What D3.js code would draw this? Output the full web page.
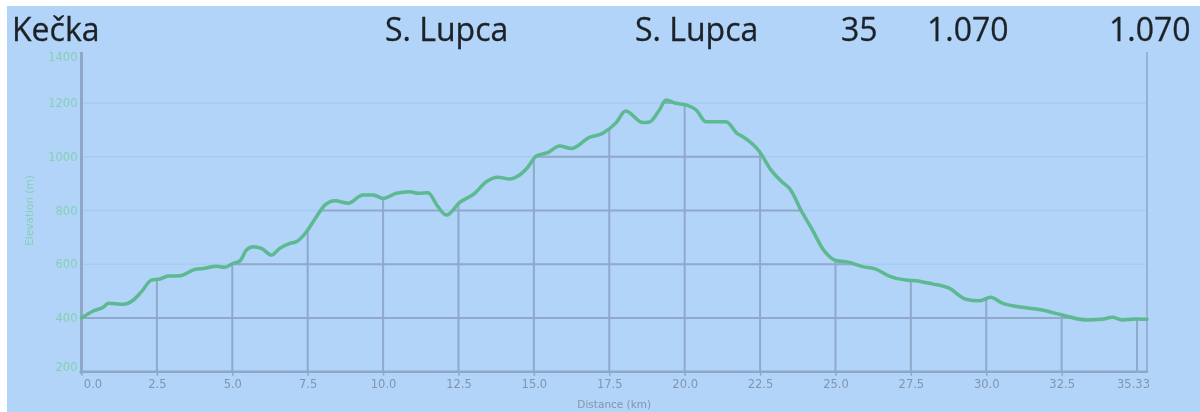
<!DOCTYPE html>
<html>
<head>
<meta charset="utf-8">
<script src="https://cdn.jsdelivr.net/npm/d3@7"></script>
<style>
  html, body { margin: 0; padding: 0; background: #ffffff; }
  svg { display: block; }
</style>
</head>
<body>
<svg id="chart" width="1200" height="412"></svg>
<script>
// ---- data ----
const headerLabels = ["Kečka", "S. Lupca", "S. Lupca", "35", "1.070", "1.070"];
const distanceKm = [0, 0.39, 0.72, 0.89, 1.38, 1.72, 1.99, 2.32, 2.60, 2.87, 3.26, 3.76, 4.09, 4.48, 4.75, 5.03, 5.25, 5.47, 5.69, 5.97, 6.30, 6.57, 6.91, 7.13, 7.46, 7.79, 8.07, 8.40, 8.84, 9.33, 9.67, 10.0, 10.44, 10.88, 11.16, 11.49, 11.82, 12.10, 12.54, 13.04, 13.42, 13.81, 14.19, 14.47, 14.80, 15.08, 15.46, 15.85, 16.24, 16.84, 17.28, 17.73, 18.04, 18.61, 18.83, 19.16, 19.38, 19.71, 20.04, 20.38, 20.71, 21.04, 21.37, 21.76, 21.92, 22.48, 22.86, 23.25, 23.47, 23.91, 24.24, 24.57, 25.02, 25.46, 25.9, 26.34, 26.78, 27.33, 27.66, 28.21, 28.77, 29.32, 29.76, 30.15, 30.53, 31.19, 31.86, 32.52, 33.30, 33.84, 34.18, 34.51, 34.96, 35.33];
const elevationM = [400, 426, 440, 455, 451, 467, 498, 541, 545, 556, 557, 581, 585, 593, 589, 603, 612, 653, 665, 659, 634, 659, 678, 684, 721, 777, 820, 836, 827, 858, 858, 845, 864, 870, 864, 866, 814, 783, 830, 864, 907, 924, 917, 928, 961, 1003, 1015, 1040, 1031, 1072, 1087, 1127, 1170, 1127, 1129, 1174, 1211, 1199, 1193, 1174, 1130, 1130, 1130, 1085, 1075, 1019, 951, 904, 883, 790, 727, 659, 614, 607, 591, 582, 556, 541, 539, 527, 511, 470, 464, 477, 455, 440, 430, 411, 393, 395, 403, 393, 396, 395];
const xTickValues = [0, 2.5, 5, 7.5, 10, 12.5, 15, 17.5, 20, 22.5, 25, 27.5, 30, 32.5, 35.33];
const xTickLabels = ["0.0", "2.5", "5.0", "7.5", "10.0", "12.5", "15.0", "17.5", "20.0", "22.5", "25.0", "27.5", "30.0", "32.5", "35.33"];
const xGridValues = [2.5, 5, 7.5, 10, 12.5, 15, 17.5, 20, 22.5, 25, 27.5, 30, 32.5, 35];
const yTickValues = [200, 400, 600, 800, 1000, 1200, 1400];
const xTitle = "Distance (km)";
const yTitle = "Elevation (m)";

const data = distanceKm.map((d, i) => ({ d, e: elevationM[i] }));

// ---- layout ----
const W = 1200, H = 412;
const mLeft = 81.5, mRight = 1147, mTop = 49.25, mBottom = 371.75;
const x = d3.scaleLinear().domain([0, 35.33]).range([mLeft, mRight]);
const y = d3.scaleLinear().domain([200, 1400]).range([mBottom, mTop]);

const svg = d3.select("#chart");
const defs = svg.append("defs");
defs.append("filter").attr("id", "soft")
  .attr("x", "-5%").attr("y", "-5%").attr("width", "110%").attr("height", "110%")
  .append("feGaussianBlur").attr("stdDeviation", 0.6);

const root = svg.append("g").attr("filter", "url(#soft)");

root.append("rect").attr("x", 7).attr("y", 6).attr("width", W - 7).attr("height", H - 6)
  .attr("fill", "#b1d4f8");

// header
const headerX = [12, 385, 635, 841, 927, 1109];
root.append("g").selectAll("text").data(headerLabels).join("text")
  .attr("x", (d, i) => headerX[i]).attr("y", 41)
  .attr("font-family", "'Open Sans', 'Noto Sans', sans-serif")
  .attr("font-size", 32).attr("fill", "#1c2026")
  .attr("stroke", "#1c2026").attr("stroke-width", 0.3)
  .text(d => d);

// light horizontal grid (full width)
const innerY = yTickValues.filter(v => v > 200 && v < 1400);
root.append("g").selectAll("line").data(innerY).join("line")
  .attr("x1", mLeft).attr("x2", mRight)
  .attr("y1", d => y(d)).attr("y2", d => y(d))
  .attr("stroke", "#a9cbef").attr("stroke-width", 1.5);

// clip to area under the profile
const area = d3.area().x(p => x(p.d)).y0(mBottom).y1(p => y(p.e)).curve(d3.curveMonotoneX);
defs.append("clipPath").attr("id", "under").append("path").attr("d", area(data));

const dark = root.append("g").attr("clip-path", "url(#under)");
dark.selectAll("line.h").data(innerY).join("line")
  .attr("class", "h")
  .attr("x1", mLeft).attr("x2", mRight)
  .attr("y1", d => y(d)).attr("y2", d => y(d))
  .attr("stroke", "#90a9ca").attr("stroke-width", 2);
dark.selectAll("line.v").data(xGridValues).join("line")
  .attr("class", "v")
  .attr("x1", d => x(d)).attr("x2", d => x(d))
  .attr("y1", mTop).attr("y2", mBottom)
  .attr("stroke", "#90a9ca").attr("stroke-width", 2);

// right boundary
root.append("line").attr("x1", x(35.33)).attr("x2", x(35.33)).attr("y1", 52).attr("y2", mBottom + 1)
  .attr("stroke", "#97b1d2").attr("stroke-width", 2);

// y axis
const yAxis = d3.axisLeft(y).tickValues(yTickValues).tickSize(0).tickPadding(4).tickFormat(d3.format("d"));
const gy = root.append("g").attr("transform", `translate(${mLeft},0)`).call(yAxis);
gy.select(".domain").attr("stroke", "#8fa7c6").attr("stroke-width", 3).attr("d", `M0,52V${mBottom + 2}`);
gy.selectAll("text").attr("font-family", "'DejaVu Sans', sans-serif").attr("font-size", 11.5)
  .attr("fill", "#84d0b2")
  .attr("dy", d => d === 200 ? "-0.15em" : d === 1400 ? "0.95em" : "0.32em");

// x axis
const xAxis = d3.axisBottom(x).tickValues(xTickValues).tickSize(4).tickPadding(4)
  .tickFormat((d, i) => xTickLabels[i]);
const gx = root.append("g").attr("transform", `translate(0,${mBottom})`).call(xAxis);
gx.select(".domain").attr("stroke", "#8fa7c6").attr("stroke-width", 2.5).attr("d", `M${mLeft - 2},0H${mRight + 1}`);
gx.selectAll(".tick line").attr("stroke", "#8fa7c6").attr("stroke-width", 1.5);
gx.selectAll(".tick").filter(d => d === 35.33).select("line").remove();
gx.selectAll("text").attr("font-family", "'DejaVu Sans', sans-serif").attr("font-size", 11.5)
  .attr("fill", "#8494aa")
  .attr("dx", d => d === 0 ? 11 : d === 35.33 ? -14 : 0);

// axis titles
root.append("text").attr("x", (mLeft + mRight) / 2).attr("y", 408)
  .attr("text-anchor", "middle").attr("font-family", "'DejaVu Sans', sans-serif")
  .attr("font-size", 10.5).attr("fill", "#8494aa").text(xTitle);
root.append("text").attr("transform", `translate(33,${(mTop + mBottom) / 2}) rotate(-90)`)
  .attr("text-anchor", "middle").attr("font-family", "'DejaVu Sans', sans-serif")
  .attr("font-size", 10.5).attr("fill", "#84d0b2").text(yTitle);

// profile line
const line = d3.line().x(p => x(p.d)).y(p => y(p.e)).curve(d3.curveMonotoneX);
root.append("path").datum(data).attr("d", line)
  .attr("fill", "none").attr("stroke", "#5cb991").attr("stroke-width", 3.5)
  .attr("stroke-linejoin", "round").attr("stroke-linecap", "round");
</script>
</body>
</html>
